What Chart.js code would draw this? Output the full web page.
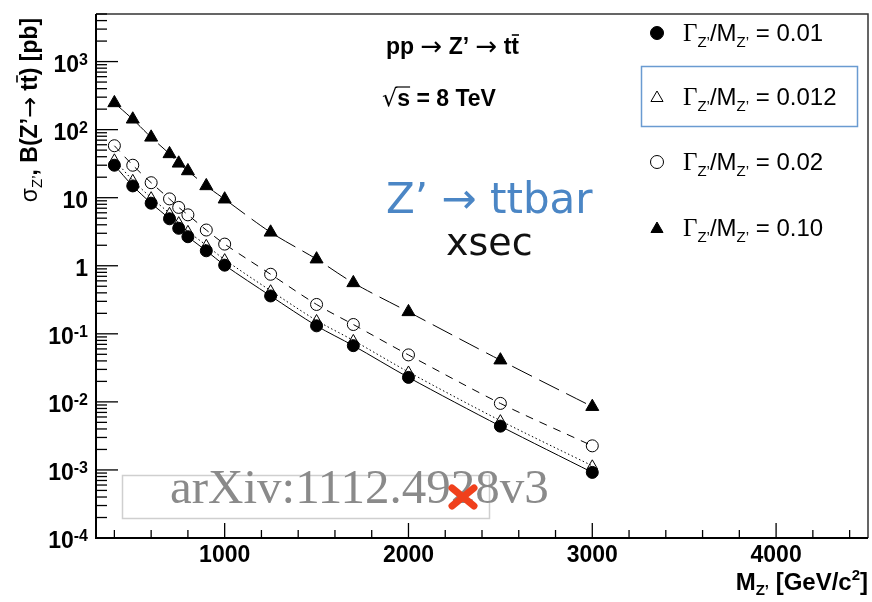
<!DOCTYPE html>
<html>
<head>
<meta charset="utf-8">
<script src="https://cdn.jsdelivr.net/npm/chart.js@4/dist/chart.umd.min.js"></script>
<style>
html,body{margin:0;padding:0;background:#fff;}
#wrap{width:872px;height:602px;}
</style>
</head>
<body>
<div id="wrap"><canvas id="c" width="872" height="602"></canvas></div>
<script>
// ---- data ----
const massGeV = [400, 500, 600, 700, 750, 800, 900, 1000, 1250, 1500, 1700, 2000, 2500, 3000];
const xsecW001  = [30, 14.9, 8.3, 4.9, 3.55, 2.67, 1.66, 1.02, 0.36, 0.131, 0.067, 0.0229, 0.0044, 0.00092];
const xsecW0012 = [36, 18, 10, 5.9, 4.3, 3.2, 2.0, 1.23, 0.43, 0.157, 0.080, 0.0275, 0.0053, 0.00115];
const xsecW002  = [58, 30, 16.6, 9.6, 7.2, 5.6, 3.35, 2.08, 0.75, 0.27, 0.137, 0.049, 0.0095, 0.00226];
const xsecW010  = [247, 142, 77, 44, 32, 24.7, 14.9, 9.5, 3.1, 1.25, 0.56, 0.21, 0.041, 0.0085];
const widthLabels = ['0.01', '0.012', '0.02', '0.10'];
const xTickValues = [1000, 2000, 3000, 4000];
const xTickLabels = ['1000', '2000', '3000', '4000'];
const yTickValues = [1e-4, 1e-3, 1e-2, 1e-1, 1, 10, 100, 1000];
const yTickLabels = ['10^-4', '10^-3', '10^-2', '10^-1', '1', '10', '10^2', '10^3'];

const SANS = '"Liberation Sans", Arial, Helvetica, sans-serif';
const SERIF = '"Liberation Serif", "Times New Roman", serif';
const ARROW = '"DejaVu Sans", sans-serif';

function pts(ys){ return massGeV.map((m,i)=>({x:m, y:ys[i]})); }

// rich text helper: parts {t, f, dy, bar}
function richWidth(ctx, parts){
  let w = 0;
  for (const p of parts){ ctx.font = p.f; w += ctx.measureText(p.t).width; }
  return w;
}
function drawRich(ctx, parts, x, y, align, color){
  let w = richWidth(ctx, parts);
  let cx = align === 'right' ? x - w : (align === 'center' ? x - w/2 : x);
  ctx.textAlign = 'left';
  ctx.textBaseline = 'alphabetic';
  for (const p of parts){
    ctx.font = p.f;
    ctx.fillStyle = p.c || color || '#000';
    const pw = ctx.measureText(p.t).width;
    ctx.fillText(p.t, cx, y + (p.dy || 0));
    if (p.bar){
      ctx.strokeStyle = p.c || color || '#000';
      ctx.lineWidth = p.barW || 1.6;
      const by = y + (p.dy||0) - p.barH;
      ctx.beginPath(); ctx.moveTo(cx + (p.barX0||0), by); ctx.lineTo(cx + pw + (p.barX1||0), by); ctx.stroke();
    }
    cx += pw;
  }
}

function drawMarker(ctx, style, x, y, r, filled){
  ctx.beginPath();
  if (style === 'circle'){
    ctx.arc(x, y, r, 0, Math.PI*2);
  } else {
    for (let k=0;k<3;k++){
      const a = k * 2*Math.PI/3;
      const px = x + Math.sin(a)*r, py = y - Math.cos(a)*r;
      if (k===0) ctx.moveTo(px,py); else ctx.lineTo(px,py);
    }
    ctx.closePath();
  }
  ctx.lineWidth = 1;
  ctx.strokeStyle = '#000';
  if (filled){ ctx.fillStyle = '#000'; ctx.fill(); }
  ctx.stroke();
}

const decor = {
  id: 'decor',
  beforeDraw(chart){
    const ctx = chart.ctx;
    ctx.save();
    ctx.fillStyle = '#fff';
    ctx.fillRect(0,0,chart.width,chart.height);
    ctx.restore();
  },
  afterDraw(chart){
    const ctx = chart.ctx;
    const a = chart.chartArea;
    const xs = chart.scales.x, ys = chart.scales.y;
    ctx.save();
    // frame
    ctx.strokeStyle = '#333'; ctx.lineWidth = 1.5;
    ctx.beginPath(); ctx.moveTo(a.left, a.top); ctx.lineTo(a.right, a.top); ctx.lineTo(a.right, a.bottom); ctx.stroke();
    ctx.strokeStyle = '#000'; ctx.lineWidth = 2;
    ctx.beginPath(); ctx.moveTo(a.left, a.top); ctx.lineTo(a.left, a.bottom); ctx.lineTo(a.right, a.bottom); ctx.stroke();

    // y ticks (inside)
    ctx.lineWidth = 1.3; ctx.strokeStyle = '#000';
    for (let e = -4; e <= 3; e++){
      for (let m = 1; m <= 9; m++){
        const v = m * Math.pow(10, e);
        if (v > ys.max) continue;
        const py = ys.getPixelForValue(v);
        const len = (m === 1) ? 22 : 11;
        ctx.beginPath(); ctx.moveTo(a.left, py); ctx.lineTo(a.left + len, py); ctx.stroke();
      }
    }
    // x ticks (inside)
    for (let v = 400; v <= xs.max; v += 200){
      const px = xs.getPixelForValue(v);
      const len = (v % 1000 === 0) ? 15 : 8;
      ctx.beginPath(); ctx.moveTo(px, a.bottom); ctx.lineTo(px, a.bottom - len); ctx.stroke();
    }

    // y tick labels
    yTickValues.forEach((v,i)=>{
      const py = ys.getPixelForValue(v);
      const lab = yTickLabels[i].split('^');
      const parts = [{t: lab[0], f: 'bold 23px ' + SANS}];
      if (lab[1]) parts.push({t: lab[1], f: 'bold 16px ' + SANS, dy: -7});
      drawRich(ctx, parts, 88, py + 10, 'right');
    });
    // x tick labels
    xTickValues.forEach((v,i)=>{
      const px = xs.getPixelForValue(v);
      drawRich(ctx, [{t: xTickLabels[i], f: 'bold 23px ' + SANS}], px, 562, 'center');
    });

    // x title
    drawRich(ctx, [
      {t:'M', f:'bold 24px ' + SANS},
      {t:'Z’', f:'bold 15px ' + SANS, dy: 5},
      {t:' [GeV/c', f:'bold 24px ' + SANS},
      {t:'2', f:'bold 15px ' + SANS, dy: -10},
      {t:']', f:'bold 24px ' + SANS}
    ], 868, 590, 'right');

    // y title (rotated)
    ctx.save();
    ctx.translate(37, 110);
    ctx.rotate(-Math.PI/2);
    drawRich(ctx, [
      {t:'σ', f:'23px ' + SANS},
      {t:'Z’', f:'15px ' + SANS, dy: 5},
      {t:', B(Z’', f:'bold 23px ' + SANS},
      {t:'→', f:'25px ' + ARROW, dy: 1},
      {t:' t', f:'bold 23px ' + SANS},
      {t:'t', f:'bold 23px ' + SANS, bar:true, barH:20, barX0:0.5, barX1:0},
      {t:') [pb]', f:'bold 23px ' + SANS}
    ], 0, 0, 'center');
    ctx.restore();

    // process text
    drawRich(ctx, [
      {t:'pp ', f:'bold 23px ' + SANS},
      {t:'→', f:'26px ' + ARROW, dy: 1},
      {t:' Z’ ', f:'bold 23px ' + SANS},
      {t:'→', f:'26px ' + ARROW, dy: 1},
      {t:' t', f:'bold 23px ' + SANS},
      {t:'t', f:'bold 23px ' + SANS, bar:true, barH:19, barX0:0.5, barX1:0}
    ], 386, 54, 'left');
    drawRich(ctx, [
      {t:'√', f:'24px ' + ARROW},
      {t:'s', f:'bold 23px ' + SANS, bar:true, barH:19, barW:1.2, barX0:-1, barX1:0},
      {t:' = 8 TeV', f:'bold 23px ' + SANS}
    ], 382, 106, 'left');

    // handwritten-like annotation
    drawRich(ctx, [{t:'Z’ → ttbar', f:'42px "DejaVu Sans", sans-serif'}], 386, 213, 'left', '#4b86c5');
    drawRich(ctx, [{t:'xsec', f:'38px "DejaVu Sans", sans-serif'}], 446, 255, 'left', '#111');

    // legend
    const rows = [33, 97, 162, 228];
    const styles = [['circle', true, 6.5], ['triangle', false, 7], ['circle', false, 6.5], ['triangle', true, 7]];
    widthLabels.forEach((lab, i)=>{
      const y = rows[i];
      drawMarker(ctx, styles[i][0], 657, styles[i][0]==='triangle' ? y+1 : y, styles[i][2], styles[i][1]);
      drawRich(ctx, [
        {t:'Γ', f:'25px ' + SERIF},
        {t:'Z’', f:'15px ' + SANS, dy: 6},
        {t:'/M', f:'24px ' + SANS},
        {t:'Z’', f:'15px ' + SANS, dy: 6},
        {t:' = ' + lab, f:'24px ' + SANS}
      ], 683, y + 8, 'left');
    });
    ctx.strokeStyle = '#6a9bd1'; ctx.lineWidth = 1.5;
    ctx.strokeRect(641.5, 66.5, 216, 60);

    // watermark
    ctx.strokeStyle = '#cfcfcf'; ctx.lineWidth = 1.5;
    ctx.strokeRect(122.5, 475.5, 367, 43);
    drawRich(ctx, [{t:'arXiv:1112.4928v3', f:'49px ' + SERIF}], 170, 503, 'left', '#8a8a8a');
    // red cross
    ctx.strokeStyle = '#f0401c'; ctx.lineWidth = 7; ctx.lineCap = 'round';
    ctx.beginPath();
    ctx.moveTo(452, 488); ctx.lineTo(474, 506);
    ctx.moveTo(474, 488); ctx.lineTo(452, 506);
    ctx.stroke();
    ctx.restore();
  }
};

new Chart(document.getElementById('c'), {
  type: 'line',
  data: {
    datasets: [
      { label: 'W/M = 0.01', data: pts(xsecW001), order: 1,
        borderColor: '#000', borderWidth: 1, tension: 0.3,
        pointStyle: 'circle', pointRadius: 6, pointBackgroundColor: '#000', pointBorderColor: '#000', pointBorderWidth: 1 },
      { label: 'W/M = 0.012', data: pts(xsecW0012), order: 2,
        borderColor: '#000', borderWidth: 1, borderDash: [1.5, 2.5], tension: 0.3,
        pointStyle: 'triangle', pointRadius: 6, pointBackgroundColor: 'rgba(255,255,255,0)', pointBorderColor: '#000', pointBorderWidth: 1 },
      { label: 'W/M = 0.02', data: pts(xsecW002), order: 3,
        borderColor: '#000', borderWidth: 1, borderDash: [8, 7], tension: 0.3,
        pointStyle: 'circle', pointRadius: 6, pointBackgroundColor: 'rgba(255,255,255,0)', pointBorderColor: '#000', pointBorderWidth: 1 },
      { label: 'W/M = 0.10', data: pts(xsecW010), order: 4,
        borderColor: '#000', borderWidth: 1, borderDash: [22, 8], tension: 0.3,
        pointStyle: 'triangle', pointRadius: 7.5, pointBackgroundColor: '#000', pointBorderColor: '#000', pointBorderWidth: 1 }
    ]
  },
  options: {
    responsive: false,
    animation: false,
    devicePixelRatio: 1,
    layout: { autoPadding: false, padding: { left: 96, right: 4, top: 14, bottom: 64 } },
    plugins: { legend: { display: false }, tooltip: { enabled: false } },
    scales: {
      x: { type: 'linear', min: 300, max: 4500,
           ticks: { display: false }, grid: { display: false, drawTicks: false }, border: { display: false },
           afterFit(s){ s.height = 0; } },
      y: { type: 'logarithmic', min: 1e-4, max: 5000,
           ticks: { display: false }, grid: { display: false, drawTicks: false }, border: { display: false },
           afterFit(s){ s.width = 0; } }
    }
  },
  plugins: [decor]
});
</script>
</body>
</html>
